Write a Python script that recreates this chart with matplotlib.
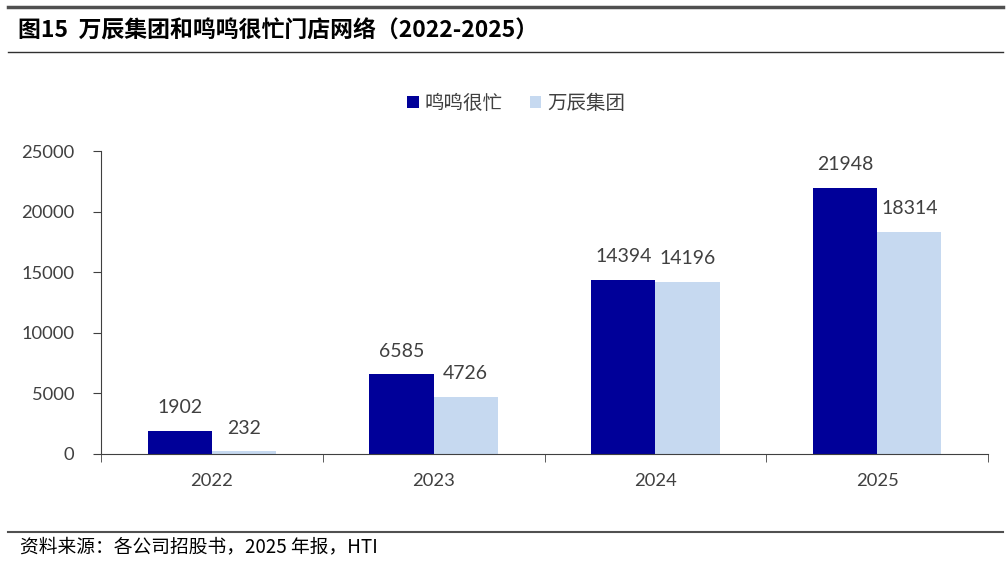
import matplotlib
matplotlib.use("Agg")
import matplotlib.pyplot as plt
import numpy as np
from matplotlib.lines import Line2D

plt.rcParams['font.family'] = ['Lato', 'Noto Sans CJK SC', 'DejaVu Sans']

years = ['2022', '2023', '2024', '2025']
mmhm = [1902, 6585, 14394, 21948]
wanchen = [232, 4726, 14196, 18314]
series_names = ['鸣鸣很忙', '万辰集团']
yticks = [0, 5000, 10000, 15000, 20000, 25000]

dark = '#000099'
light = '#C6D9F0'
txt = '#404040'

fig = plt.figure(figsize=(10.08, 5.64), dpi=100)
ax = fig.add_axes([101/1008, 1-454/564, (988-101)/1008, (454-151)/564])

x = np.arange(len(years))
w = 0.29
b1 = ax.bar(x - w/2, mmhm, w, color=dark, label=series_names[0])
b2 = ax.bar(x + w/2, wanchen, w, color=light, label=series_names[1])

for xi, v in zip(x, mmhm):
    ax.text(xi - w/2, v + 1200, str(v), ha='center', va='bottom', fontsize=14, color=txt)
for xi, v in zip(x, wanchen):
    ax.text(xi + w/2, v + 1200, str(v), ha='center', va='bottom', fontsize=14, color=txt)

ax.set_xlim(-0.5, len(years) - 0.5)
ax.set_ylim(0, 25000)
ax.set_yticks(yticks)
ax.set_yticklabels([str(t) for t in yticks], fontsize=13.2, color=txt)
ax.set_xticks(x)
ax.set_xticklabels(years, fontsize=13.2, color=txt)
ax.tick_params(axis='x', length=0, pad=14)
ax.set_xticks(np.arange(-0.5, len(years)), minor=True)
ax.tick_params(axis='x', which='minor', length=6, direction='out', color='#404040')
ax.tick_params(axis='y', length=6, direction='out', color='#404040', pad=13)
for s in ['top', 'right']:
    ax.spines[s].set_visible(False)
ax.spines['left'].set_color('#404040')
ax.spines['bottom'].set_color('#404040')

leg = ax.legend(loc='upper center', bbox_to_anchor=(0.468, 1.25), ncol=2, frameon=False,
                prop={'family': ['Noto Sans CJK SC'], 'size': 14},
                handlelength=0.6, handleheight=0.6, handletextpad=0.3, columnspacing=1.4)
for t in leg.get_texts():
    t.set_color(txt)

# header / footer lines
fig.add_artist(Line2D([0.008, 0.995], [1-7/564, 1-7/564], color='#505050', lw=2.5))
fig.add_artist(Line2D([0.008, 0.995], [1-52/564, 1-52/564], color='#303030', lw=1.0))
fig.add_artist(Line2D([0.008, 0.995], [1-532/564, 1-532/564], color='#505050', lw=1.5))

fig.text(18/1008, 1-31/564, '图15  万辰集团和鸣鸣很忙门店网络（2022-2025）', fontsize=16.5,
         fontweight='bold', family=['Noto Sans CJK SC'], va='center', ha='left', color='black')
fig.text(20/1008, 1-547/564, '资料来源：各公司招股书，2025 年报，HTI', fontsize=13.5,
         family=['Noto Sans CJK SC'], va='center', ha='left', color='black')

fig.savefig('out.png', dpi=100)
